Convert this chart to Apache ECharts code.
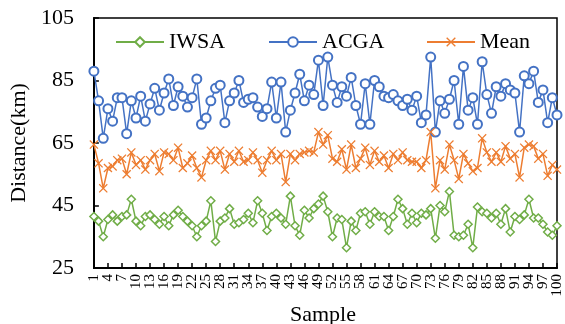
<!DOCTYPE html>
<html><head><meta charset="utf-8">
<script src="https://cdn.jsdelivr.net/npm/echarts@6/dist/echarts.min.js"></script>
<style>html,body{margin:0;padding:0;background:#fff}#c{width:565px;height:324px}</style>
</head><body><div id="c"></div>
<script>
var categories = [];
for (var i = 1; i <= 100; i++) categories.push(String(i));
var yTicks = [25, 45, 65, 85, 105];
var iwsa = [41.5,40,35,40.5,42,40,41.5,42,47,40,38.5,41.5,42,40.5,39,41.5,38.5,42,43.5,41.5,
  40,38.5,35,38.5,40,46.5,33.5,40,41,44,39,39.5,40.5,42.5,39.5,46.5,42.5,37,41.5,42.5,
  41,39,48,38.5,35.5,43.5,41,44,45.5,48,43,35,41,40.5,31.5,40,37,42.5,43,39,
  43,41.5,41.5,37,41.5,47,44,39,42.5,39.5,42.5,42,44,34.5,45,43,49.5,35.5,35,35.5,
  39,31.5,44.5,43,42.5,41,42.5,39,44,36.5,41.5,40.5,42,47,41,41,39,36.5,35.5,38.5];
var acga = [88,78.5,66.5,76,72,79.5,79.5,68,78.5,73,80,72,77.5,82.5,75.5,81,85.5,77,83,80,
  76.5,79.5,85.5,71,73,78.5,82.5,83.5,71.5,78.5,81,85,78,79,79.5,76.5,73.5,76,84.5,73,
  84.5,68.5,75.5,81,87,78.5,83.5,80.5,91.5,77,92.5,83.5,78,83,80,86,77,71,84,71,
  85,83,80,79.5,80.5,78.5,77,79,75.5,80,71.5,74,92.5,68.5,78.5,74.5,79,85,71,89.5,
  75.5,79.5,71,91,80.5,74.5,83,80,84,82,81,68.5,86.5,84,88,78,82,71.5,79.5,74];
var mean = [64.5,58.5,50.5,57,57.5,59.5,60,55,62,58,59.5,56.5,59.5,61.5,56,62,61.5,59.5,63.5,57,
  58.5,61,57,54,59.5,62.5,59.5,62.5,56.5,61.5,59,62.5,59,59.5,62,59.5,55.5,59.5,62.5,59.5,
  61.5,52.5,61.5,59.5,61.5,62,62.5,62,68.5,64.5,67.5,60,59,63,56.5,64.5,57,60,63.5,58,
  62.5,59,61,57,61.5,59.5,62,59.5,59,59,57,59.5,68.5,50.5,59.5,56.5,64.5,59.5,53.5,61.5,
  58.5,56,57,66.5,62,59,62,59,64,60,61.5,54,63.5,64.5,64,60,61.5,54.5,58,56.5];

var font = "Liberation Serif";
var crossPath = 'path://M0,1L1,0L5,4L9,0L10,1L6,5L10,9L9,10L5,6L1,10L0,9L4,5Z';
var chart = echarts.init(document.getElementById('c'), null, {renderer: 'canvas'});
function legend(name, left) {
  return {data: [name], left: left, top: 26, itemWidth: 48, itemHeight: 12, itemGap: 4,
    textStyle: {fontFamily: font, fontSize: 22, color: '#000'}};
}
chart.setOption({
  animation: false,
  backgroundColor: '#fff',
  textStyle: {fontFamily: font},
  legend: [legend('IWSA', 110), legend('ACGA', 263), legend('Mean', 421)],
  grid: {left: 85, right: 8, top: 18, bottom: 56, show: true, borderColor: '#000', borderWidth: 1.5, containLabel: false},
  graphic: [{type: 'text', left: 290, top: 304, silent: true,
    style: {text: 'Sample', font: '22px "Liberation Serif", serif', fill: '#000'}}],
  xAxis: {
    type: 'category', data: categories, boundaryGap: false,
    axisLine: {lineStyle: {color: '#000', width: 2}},
    axisTick: {inside: true, length: 5, interval: 2, lineStyle: {color: '#000', width: 1.5}},
    axisLabel: {interval: 0, rotate: 90, fontFamily: font, fontSize: 15, lineHeight: 12, color: '#000', margin: 6,
      showMinLabel: true, showMaxLabel: true, hideOverlap: false,
      formatter: function (v, idx) { return idx % 3 === 0 ? v : ''; }},
    splitLine: {show: false}
  },
  yAxis: {
    type: 'value', min: 25, max: 105, interval: 20,
    name: 'Distance(km)', nameLocation: 'middle', nameGap: 62,
    nameTextStyle: {fontFamily: font, fontSize: 22, color: '#000'},
    axisLine: {show: true, lineStyle: {color: '#000', width: 2}},
    axisTick: {show: true, inside: true, length: 5, lineStyle: {color: '#000', width: 1.5}},
    axisLabel: {fontFamily: font, fontSize: 22, color: '#000', margin: 20,
      formatter: function (v) { return yTicks.indexOf(v) >= 0 ? String(v) : ''; }},
    splitLine: {show: false}
  },
  series: [
    {name: 'IWSA', type: 'line', data: iwsa, symbol: 'diamond', symbolSize: 8, showAllSymbol: true,
      itemStyle: {color: '#fff', borderColor: '#70AD47', borderWidth: 1.5},
      lineStyle: {color: '#70AD47', width: 1.5}, color: '#70AD47'},
    {name: 'ACGA', type: 'line', data: acga, symbol: 'emptyCircle', symbolSize: 9, showAllSymbol: true,
      itemStyle: {color: '#4472C4', borderColor: '#4472C4', borderWidth: 1.5},
      lineStyle: {color: '#4472C4', width: 1.5}, color: '#4472C4'},
    {name: 'Mean', type: 'line', data: mean, symbol: crossPath, symbolSize: 9, showAllSymbol: true,
      itemStyle: {color: '#ED7D31'},
      lineStyle: {color: '#ED7D31', width: 1.5}, color: '#ED7D31'}
  ]
});
</script></body></html>
